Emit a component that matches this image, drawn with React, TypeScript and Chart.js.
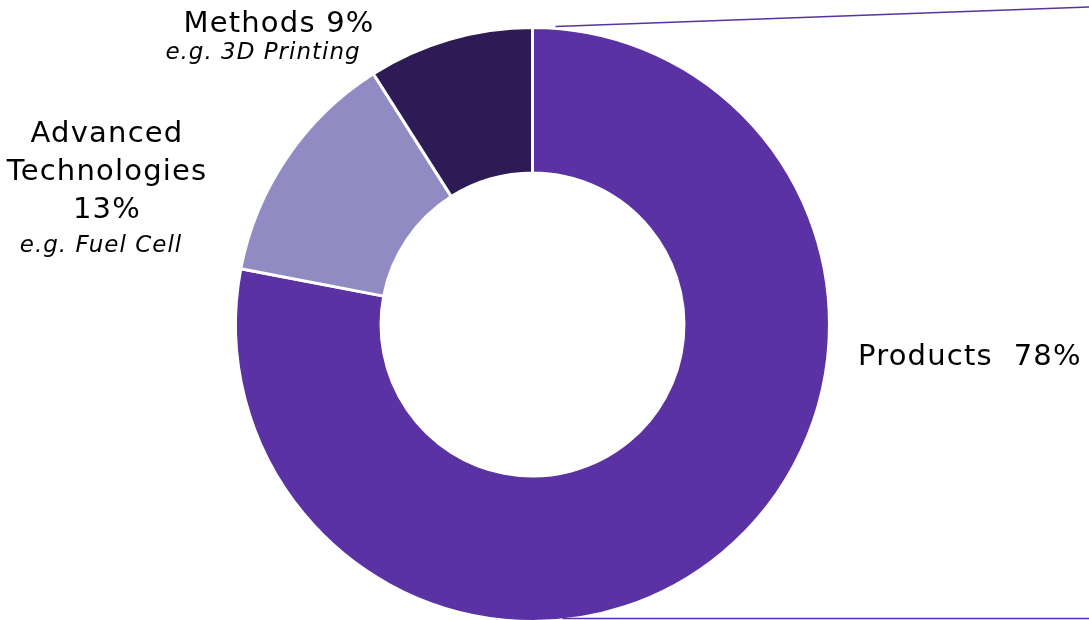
import React, { useEffect, useRef } from "react";
import { Chart, registerables } from "chart.js";

Chart.register(...registerables);

const categories = ["Products", "Advanced Technologies", "Methods"];
const shares = [78, 13, 9];
const colors = ["#5A32A3", "#918BC3", "#2E1A55"];
const examples = ["", "e.g. Fuel Cell", "e.g. 3D Printing"];

const FONT = "'DejaVu Sans', sans-serif";

const decorPlugin = {
  id: "decor",
  afterDraw(chart: any) {
    const ctx = chart.ctx;
    const arc = chart.getDatasetMeta(0).data[0] as any;
    const cx = arc.x;
    const cy = arc.y;
    const r = arc.outerRadius;
    const W = chart.width;
    ctx.save();
    // connector lines
    ctx.strokeStyle = "#5A32A3";
    ctx.lineWidth = 1.5;
    ctx.beginPath();
    ctx.moveTo(cx + 23, cy - r - 1);
    ctx.lineTo(W, 7);
    ctx.stroke();
    ctx.beginPath();
    ctx.moveTo(cx + 30, 618.5);
    ctx.lineTo(W, 618.5);
    ctx.stroke();

    ctx.fillStyle = "#000";
    ctx.textBaseline = "alphabetic";
    const main = () => {
      ctx.font = `29px ${FONT}`;
      (ctx as any).letterSpacing = "1.2px";
    };
    const ital = () => {
      ctx.font = `italic 23px ${FONT}`;
      (ctx as any).letterSpacing = "1px";
    };
    // Methods
    ctx.textAlign = "center";
    main();
    ctx.fillText(`${categories[2]} ${shares[2]}%`, 279, 32);
    ital();
    ctx.fillText(examples[2], 263, 59);
    // Advanced Technologies
    main();
    ctx.fillText("Advanced", 107, 142);
    ctx.fillText("Technologies", 107, 180);
    ctx.fillText(`${shares[1]}%`, 107, 218);
    ital();
    ctx.fillText(examples[1], 101, 252);
    // Products
    ctx.textAlign = "left";
    main();
    ctx.fillText(`${categories[0]}  ${shares[0]}%`, 858, 365);
    ctx.restore();
  },
};

export default function App() {
  const ref = useRef<HTMLCanvasElement>(null);
  useEffect(() => {
    const chart = new Chart(ref.current!, {
      type: "doughnut",
      data: {
        labels: categories,
        datasets: [
          {
            data: shares,
            backgroundColor: colors,
            borderColor: "#ffffff",
            borderWidth: 3,
          },
        ],
      },
      options: {
        responsive: false,
        animation: false,
        cutout: "51%",
        layout: { padding: { left: 234, right: 258, top: 26, bottom: 27 } },
        plugins: { legend: { display: false }, tooltip: { enabled: false } },
      },
      plugins: [decorPlugin],
    });
    return () => chart.destroy();
  }, []);
  return (
    <div style={{ position: "fixed", left: 0, top: 0, width: 1089, height: 620, overflow: "hidden", background: "#fff" }}>
      <canvas ref={ref} width={1089} height={650} />
    </div>
  );
}
